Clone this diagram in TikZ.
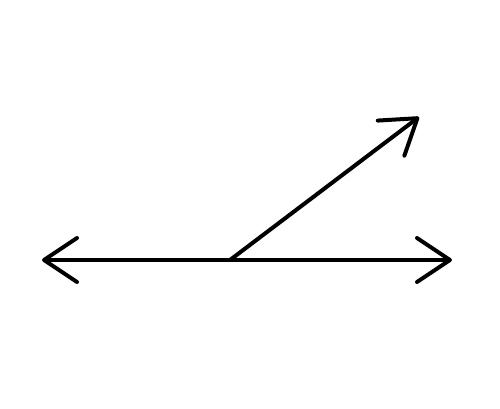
\documentclass[tikz,border=0pt]{standalone}
\usetikzlibrary{arrows.meta}
\begin{document}
\begin{tikzpicture}[x=1pt,y=-1pt,
  barb/.tip={Straight Barb[length=33pt, width=44pt, line cap=round, line join=round]},
  ray/.style={line width=4pt, line cap=round, -barb},
  dbl/.style={line width=4pt, line cap=round, barb-barb}]
\useasboundingbox (0,0) rectangle (500,409);
\fill[white] (0,0) rectangle (500,409);
\coordinate (L) at (42,260);
\coordinate (R) at (452,260);
\coordinate (O) at (230,260);
\coordinate (T) at (419,117);
\draw[dbl] (L) -- (R);
\draw[ray] (O) -- (T);
\end{tikzpicture}
\end{document}
